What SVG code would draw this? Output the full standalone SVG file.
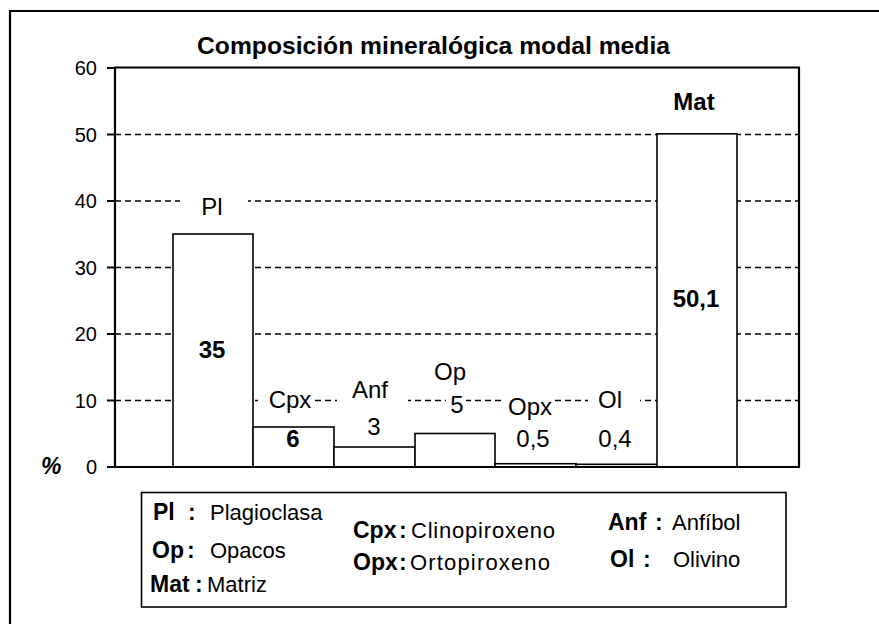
<svg xmlns="http://www.w3.org/2000/svg" width="879" height="624" viewBox="0 0 879 624">
  <style>
    text { font-family: "Liberation Sans", Arial, sans-serif; fill: #000; }
    .title { font-size: 24px; font-weight: bold; }
    .tick { font-size: 20px; text-anchor: end; }
    .lbl { font-size: 24px; text-anchor: middle; }
    .val { font-size: 24px; font-weight: bold; text-anchor: middle; }
    .lk { font-size: 23px; font-weight: bold; }
    .ln { font-size: 22px; }
    .grid { stroke: #000; stroke-width: 1.5; stroke-dasharray: 6 4; fill: none; }
    .bar { fill: #fff; stroke: #000; stroke-width: 1.6; }
    .axis { stroke: #000; stroke-width: 2.2; fill: none; }
    .bg { fill: #fff; }
  </style>
  <rect x="0" y="0" width="879" height="624" fill="#fff"/>
  <!-- outer frame -->
  <path d="M10,624 V11 H879" class="axis"/>
  <text class="title" x="197" y="54" textLength="473" lengthAdjust="spacingAndGlyphs">Composición mineralógica modal media</text>

  <g id="gridlines">
    <line class="grid" x1="115" y1="134.5" x2="799" y2="134.5"/>
    <line class="grid" x1="115" y1="201" x2="799" y2="201"/>
    <line class="grid" x1="115" y1="267.5" x2="799" y2="267.5"/>
    <line class="grid" x1="115" y1="334" x2="799" y2="334"/>
    <line class="grid" x1="115" y1="400.5" x2="799" y2="400.5"/>
  </g>

  <g id="label-backgrounds">
    <rect class="bg" x="180" y="190" width="68" height="28"/>
    <rect class="bg" x="258" y="386" width="55" height="26"/>
    <rect class="bg" x="337" y="378" width="71" height="40"/>
    <rect class="bg" x="446" y="392" width="20" height="24"/>
    <rect class="bg" x="505" y="392" width="49" height="26"/>
    <rect class="bg" x="588" y="390" width="52" height="22"/>
  </g>

  <g id="bar-Pl"><rect class="bar" x="173" y="234" width="80" height="233"/>
    <text class="lbl" x="212" y="215">Pl</text>
    <text class="val" x="212" y="358">35</text></g>
  <g id="bar-Cpx"><rect class="bar" x="253" y="427" width="81" height="40"/>
    <text class="lbl" x="290" y="408">Cpx</text>
    <text class="val" x="293" y="447">6</text></g>
  <g id="bar-Anf"><rect class="bar" x="334" y="447" width="81" height="20"/>
    <text class="lbl" x="370" y="398">Anf</text>
    <text class="lbl" x="374" y="435">3</text></g>
  <g id="bar-Op"><rect class="bar" x="415" y="433.5" width="80" height="33.5"/>
    <text class="lbl" x="450" y="380">Op</text>
    <text class="lbl" x="457" y="413">5</text></g>
  <g id="bar-Opx"><rect class="bar" x="495" y="463.7" width="81" height="3.3"/>
    <text class="lbl" x="530" y="415">Opx</text>
    <text class="lbl" x="533" y="447">0,5</text></g>
  <g id="bar-Ol"><rect class="bar" x="576" y="464.3" width="81" height="2.7"/>
    <text class="lbl" x="610" y="408">Ol</text>
    <text class="lbl" x="615" y="447">0,4</text></g>
  <g id="bar-Mat"><rect class="bar" x="657" y="133.8" width="80" height="333.2"/>
    <text class="val" x="694" y="110">Mat</text>
    <text class="val" x="696" y="307">50,1</text></g>

  <g id="axes">
    <path class="axis" d="M115,67.5 H799 V467 H115 Z"/>
    <path class="axis" d="M107,68 H115 M107,134.5 H115 M107,201 H115 M107,267.5 H115 M107,334 H115 M107,400.5 H115 M107,467 H115" stroke-width="1.5"/>
    <text class="tick" x="97" y="75">60</text>
    <text class="tick" x="97" y="141.5">50</text>
    <text class="tick" x="97" y="208">40</text>
    <text class="tick" x="97" y="274.5">30</text>
    <text class="tick" x="97" y="341">20</text>
    <text class="tick" x="97" y="407.5">10</text>
    <text class="tick" x="97" y="474">0</text>
    <text x="41" y="474" font-size="23" font-weight="bold" font-style="italic">%</text>
  </g>

  <g id="legend">
    <rect x="141.5" y="492.5" width="644.5" height="114.5" fill="#fff" stroke="#000" stroke-width="1.6"/>
    <text class="lk" y="520"><tspan x="153">Pl</tspan><tspan x="188">:</tspan></text>
    <text class="ln" x="210" y="520">Plagioclasa</text>
    <text class="lk" y="558"><tspan x="152">Op</tspan><tspan x="187">:</tspan></text>
    <text class="ln" x="210" y="558">Opacos</text>
    <text class="lk" y="592"><tspan x="150">Mat</tspan><tspan x="195">:</tspan></text>
    <text class="ln" x="207" y="592">Matriz</text>
    <text class="lk" y="538"><tspan x="353">Cpx</tspan><tspan x="399">:</tspan></text>
    <text class="ln" x="411" y="538" textLength="144" lengthAdjust="spacing">Clinopiroxeno</text>
    <text class="lk" y="570"><tspan x="353">Opx</tspan><tspan x="399">:</tspan></text>
    <text class="ln" x="410" y="570" textLength="140" lengthAdjust="spacing">Ortopiroxeno</text>
    <text class="lk" y="530"><tspan x="608">Anf</tspan><tspan x="655">:</tspan></text>
    <text class="ln" x="672" y="530">Anfíbol</text>
    <text class="lk" y="567"><tspan x="610">Ol</tspan><tspan x="643">:</tspan></text>
    <text class="ln" x="673" y="567">Olivino</text>
  </g>
</svg>
